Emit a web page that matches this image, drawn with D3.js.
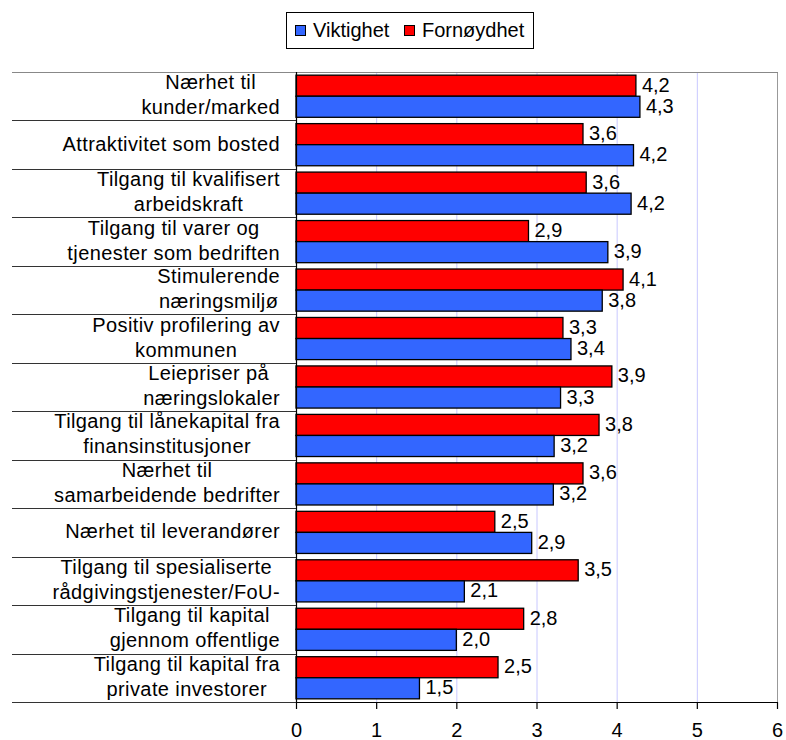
<!DOCTYPE html>
<html>
<head>
<meta charset="utf-8">
<script src="https://cdn.jsdelivr.net/npm/d3@7"></script>
<style>
  body { margin: 0; background: #fff; }
  text { font-family: "Liberation Sans", Arial, sans-serif; fill: #000; }
</style>
</head>
<body>
<svg id="chart" width="786" height="740"></svg>
<script>
// ---- data ----
const categories = [
  ["Nærhet til", "kunder/marked"],
  ["Attraktivitet som bosted"],
  ["Tilgang til kvalifisert", "arbeidskraft"],
  ["Tilgang til varer og", "tjenester som bedriften"],
  ["Stimulerende", "næringsmiljø"],
  ["Positiv profilering av", "kommunen"],
  ["Leiepriser på ", "næringslokaler"],
  ["Tilgang til lånekapital fra", "finansinstitusjoner"],
  ["Nærhet til", "samarbeidende bedrifter"],
  ["Nærhet til leverandører"],
  ["Tilgang til spesialiserte", "rådgivingstjenester/FoU-"],
  ["Tilgang til kapital ", "gjennom offentlige"],
  ["Tilgang til kapital fra", "private investorer"]
];
const viktighet  = [4.29, 4.21, 4.18, 3.89, 3.82, 3.43, 3.30, 3.22, 3.21, 2.94, 2.10, 2.00, 1.54];
const fornoydhet = [4.24, 3.58, 3.62, 2.90, 4.08, 3.33, 3.94, 3.78, 3.58, 2.48, 3.52, 2.84, 2.52];
const seriesNames = ["Viktighet", "Fornøydhet"];
const xTicks = [0, 1, 2, 3, 4, 5, 6];

// ---- layout ----
const svg = d3.select("#chart");
const pLeft = 296, pRight = 777, pTop = 72, pBottom = 702;
const colors = { Viktighet: "#3366FF", "Fornøydhet": "#FF0000" };

const x = d3.scaleLinear().domain([0, 6]).range([pLeft, pRight]);
const idx = d3.range(categories.length);
const y = d3.scaleBand().domain(idx).range([pTop, pBottom]).padding(0);
const sub = d3.scaleBand().domain(["Fornøydhet", "Viktighet"]).range([0, y.bandwidth()]).paddingOuter(0.15).paddingInner(0);

// gridlines
svg.append("g").selectAll("line").data(xTicks.filter(t => t > 0 && t < 6)).join("line")
  .attr("x1", d => x(d) + 0.5).attr("x2", d => x(d) + 0.5)
  .attr("y1", pTop).attr("y2", pBottom)
  .attr("stroke", "#c8c8ff").attr("stroke-width", 1);

// right border
svg.append("line").attr("x1", x(6) + 0.5).attr("x2", x(6) + 0.5).attr("y1", pTop).attr("y2", pBottom)
  .attr("stroke", "#999").attr("stroke-width", 1);
// top border
svg.append("line").attr("x1", 12).attr("x2", x(6) + 1).attr("y1", pTop + 0.5).attr("y2", pTop + 0.5)
  .attr("stroke", "#888").attr("stroke-width", 1.2);

// category separators
svg.append("g").selectAll("line").data(idx.slice(1).concat([categories.length])).join("line")
  .attr("x1", 12).attr("x2", pLeft)
  .attr("y1", d => Math.round(pTop + d * y.step()) + 0.5)
  .attr("y2", d => Math.round(pTop + d * y.step()) + 0.5)
  .attr("stroke", "#333").attr("stroke-width", 1);

// bars
const rows = idx.map(i => ({ i, Viktighet: viktighet[i], "Fornøydhet": fornoydhet[i] }));
const fmt = v => d3.format(".1f")(v).replace(".", ",");
const groups = svg.append("g").selectAll("g").data(rows).join("g")
  .attr("transform", d => `translate(0,${y(d.i)})`);
["Fornøydhet", "Viktighet"].forEach(s => {
  groups.append("rect")
    .attr("x", x(0))
    .attr("y", sub(s))
    .attr("width", d => x(d[s]) - x(0))
    .attr("height", sub.bandwidth())
    .attr("fill", colors[s])
    .attr("stroke", "#000").attr("stroke-width", 1.3);
  groups.append("text")
    .attr("x", d => x(d[s]) + 6)
    .attr("y", sub(s) + sub.bandwidth() / 2 + 6)
    .attr("font-size", 20)
    .text(d => fmt(d[s]));
});

// category labels (block right-aligned, lines centered)
const labelRight = 280;
categories.forEach((lines, i) => {
  const cy = y(i) + y.bandwidth() / 2;
  const g = svg.append("g");
  const texts = lines.map((ln, k) => {
    const by = lines.length === 1 ? cy + 6 : cy + (k === 0 ? -7 : 18);
    return g.append("text").attr("y", by).attr("font-size", 20)
      .attr("letter-spacing", 0.4)
      .style("white-space", "pre").attr("text-anchor", "middle").text(ln);
  });
  const w = d3.max(texts, t => t.node().getComputedTextLength());
  texts.forEach(t => t.attr("x", labelRight - w / 2));
});

// axes
svg.append("line").attr("x1", pLeft + 0.5).attr("x2", pLeft + 0.5).attr("y1", pTop).attr("y2", pBottom)
  .attr("stroke", "#000").attr("stroke-width", 1.2);
const xAxis = svg.append("g").attr("transform", `translate(0,${pBottom})`)
  .call(d3.axisBottom(x).tickValues(xTicks).tickSize(7).tickSizeOuter(0).tickFormat(d3.format("d")));
xAxis.select(".domain").attr("stroke", "#000").attr("stroke-width", 1.2);
xAxis.selectAll(".tick line").attr("stroke", "#000").attr("stroke-width", 1.2);
xAxis.selectAll(".tick text").attr("font-size", 20).attr("font-family", "Liberation Sans, Arial, sans-serif")
  .attr("dy", null).attr("y", 35).attr("fill", "#000");

// legend
const leg = svg.append("g");
leg.append("rect").attr("x", 286.5).attr("y", 12.5).attr("width", 247).attr("height", 36)
  .attr("fill", "#fff").attr("stroke", "#000").attr("stroke-width", 1);
const legItems = [{ name: "Viktighet", x: 295 }, { name: "Fornøydhet", x: 404 }];
legItems.forEach(it => {
  leg.append("rect").attr("x", it.x + 0.5).attr("y", 25.5).attr("width", 10).attr("height", 10)
    .attr("fill", colors[it.name]).attr("stroke", "#000").attr("stroke-width", 1);
  leg.append("text").attr("x", it.x + 18).attr("y", 37).attr("font-size", 20).text(it.name);
});
</script>
</body>
</html>
